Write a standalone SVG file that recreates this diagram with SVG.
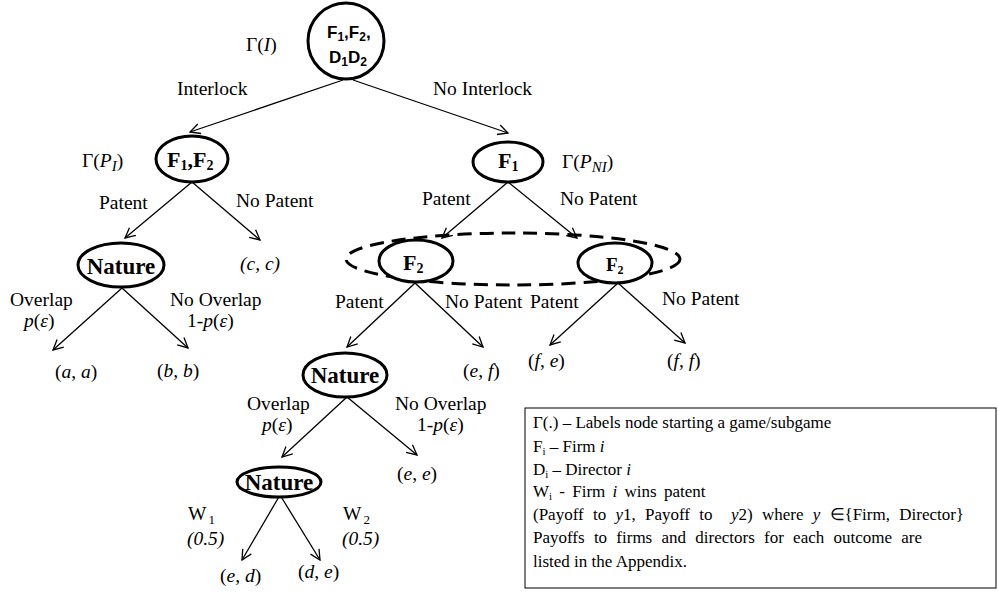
<svg xmlns="http://www.w3.org/2000/svg" width="998" height="597" viewBox="0 0 998 597">
<style>
.t{font-family:"Liberation Serif","Times New Roman",serif;font-size:19.5px;fill:#000}
.i{font-style:italic}
.nb{font-family:"Liberation Serif","Times New Roman",serif;font-weight:bold;fill:#000}
.sb{font-family:"Liberation Sans",Arial,sans-serif;font-weight:bold;font-size:17px;fill:#000}
.lg{font-family:"Liberation Serif","Times New Roman",serif;font-size:17px;fill:#000}
.node{fill:#fff;stroke:#000;stroke-width:3}
.edge{stroke:#000;stroke-width:1.3;fill:none;marker-end:url(#arr)}
</style>
<defs>
<marker id="arr" viewBox="0 0 12 12" refX="11" refY="6" markerWidth="12" markerHeight="12" markerUnits="userSpaceOnUse" orient="auto">
<path d="M1,1 L11,6 L1,11" fill="none" stroke="#000" stroke-width="1.3"/>
</marker>
</defs>
<rect width="998" height="597" fill="#fff"/>

<g id="connectors">
<line class="edge" x1="343" y1="80" x2="190" y2="132"/>
<line class="edge" x1="353" y1="80" x2="508" y2="133"/>
<line class="edge" x1="192" y1="182" x2="125" y2="238"/>
<line class="edge" x1="192" y1="182" x2="260" y2="240"/>
<line class="edge" x1="508" y1="182" x2="442" y2="238"/>
<line class="edge" x1="508" y1="182" x2="577" y2="238"/>
<line class="edge" x1="122" y1="288" x2="53" y2="350"/>
<line class="edge" x1="122" y1="288" x2="188" y2="348"/>
<line class="edge" x1="415" y1="283" x2="347" y2="347"/>
<line class="edge" x1="415" y1="283" x2="483" y2="347"/>
<line class="edge" x1="618" y1="283" x2="550" y2="345"/>
<line class="edge" x1="618" y1="283" x2="685" y2="343"/>
<line class="edge" x1="347" y1="397" x2="282" y2="457"/>
<line class="edge" x1="347" y1="397" x2="417" y2="455"/>
<line class="edge" x1="280" y1="495" x2="242" y2="560"/>
<line class="edge" x1="280" y1="495" x2="320" y2="560"/>
</g>

<g id="root">
<circle class="node" cx="346" cy="41" r="38"/>
<text class="sb" x="327" y="38">F<tspan font-size="12" dy="3">1</tspan><tspan dy="-3">,F</tspan><tspan font-size="12" dy="3">2</tspan><tspan dy="-3">,</tspan></text>
<text class="sb" x="329" y="63">D<tspan font-size="12" dy="3">1</tspan><tspan dy="-3">D</tspan><tspan font-size="12" dy="3">2</tspan></text>
<text class="t" x="246" y="51" font-size="25">Γ(<tspan class="i">I</tspan>)</text>
</g>

<g id="n_f1f2">
<ellipse class="node" cx="192" cy="159" rx="36" ry="23"/>
<text class="nb" x="167" y="167" font-size="22">F<tspan font-size="14" dy="3">1</tspan><tspan dy="-3">,F</tspan><tspan font-size="14" dy="3">2</tspan></text>
<text class="t" x="82" y="167" font-size="25">Γ(<tspan class="i">P</tspan><tspan class="i" font-size="15" dy="4">I</tspan><tspan dy="-4">)</tspan></text>
</g>

<g id="n_f1">
<ellipse class="node" cx="508" cy="162" rx="35" ry="20"/>
<text class="nb" x="498" y="168" font-size="22">F<tspan font-size="14" dy="3">1</tspan></text>
<text class="t" x="562" y="168" font-size="25">Γ(<tspan class="i">P</tspan><tspan class="i" font-size="15" dy="4">NI</tspan><tspan dy="-4">)</tspan></text>
</g>

<g id="n_nature1">
<ellipse class="node" cx="121" cy="265" rx="43" ry="22"/>
<text class="nb" x="121" y="274" font-size="23" text-anchor="middle">Nature</text>
</g>

<g id="infoset">
<ellipse cx="513" cy="259" rx="167" ry="26" fill="none" stroke="#000" stroke-width="3" stroke-dasharray="14,8"/>
</g>

<g id="n_f2a">
<ellipse class="node" cx="416" cy="261" rx="37" ry="21"/>
<text class="nb" x="403" y="270" font-size="22">F<tspan font-size="14" dy="3">2</tspan></text>
</g>

<g id="n_f2b">
<ellipse class="node" cx="615" cy="263" rx="37" ry="20"/>
<text class="nb" x="606" y="271" font-size="19">F<tspan font-size="12" dy="3">2</tspan></text>
</g>

<g id="n_nature2">
<ellipse class="node" cx="345" cy="375" rx="42" ry="22"/>
<text class="nb" x="345" y="383" font-size="23" text-anchor="middle">Nature</text>
</g>

<g id="n_nature3">
<ellipse class="node" cx="279" cy="482" rx="42" ry="15"/>
<text class="nb" x="279" y="490" font-size="23" text-anchor="middle">Nature</text>
</g>

<g id="labels">
<text class="t" x="177" y="95">Interlock</text>
<text class="t" x="433" y="95">No Interlock</text>
<text class="t" x="99" y="209">Patent</text>
<text class="t" x="236" y="207">No Patent</text>
<text class="t" x="422" y="205">Patent</text>
<text class="t" x="560" y="205">No Patent</text>
<text class="t i" x="240" y="270">(c, c)</text>
<text class="t" x="10" y="306">Overlap</text>
<text class="t" x="24" y="327"><tspan class="i">p</tspan>(<tspan class="i">ε</tspan>)</text>
<text class="t" x="170" y="306">No Overlap</text>
<text class="t" x="187" y="327">1-<tspan class="i">p</tspan>(<tspan class="i">ε</tspan>)</text>
<text class="t" x="55" y="378">(<tspan class="i">a</tspan>, <tspan class="i">a</tspan>)</text>
<text class="t" x="157" y="377">(<tspan class="i">b</tspan>, <tspan class="i">b</tspan>)</text>
<text class="t" x="335" y="308">Patent</text>
<text class="t" x="445" y="308">No Patent</text>
<text class="t" x="530" y="308">Patent</text>
<text class="t" x="662" y="305">No Patent</text>
<text class="t" x="463" y="377">(<tspan class="i">e</tspan>, <tspan class="i">f</tspan>)</text>
<text class="t" x="528" y="367">(<tspan class="i">f</tspan>, <tspan class="i">e</tspan>)</text>
<text class="t" x="667" y="367">(<tspan class="i">f</tspan>, <tspan class="i">f</tspan>)</text>
<text class="t" x="247" y="410">Overlap</text>
<text class="t" x="262" y="431"><tspan class="i">p</tspan>(<tspan class="i">ε</tspan>)</text>
<text class="t" x="395" y="410">No Overlap</text>
<text class="t" x="417" y="431">1-<tspan class="i">p</tspan>(<tspan class="i">ε</tspan>)</text>
<text class="t" x="397" y="480">(<tspan class="i">e</tspan>, <tspan class="i">e</tspan>)</text>
<text class="t" x="188" y="520">W<tspan font-size="13" dy="4" dx="2">1</tspan></text>
<text class="t i" x="187" y="545">(0.5)</text>
<text class="t" x="343" y="520">W<tspan font-size="13" dy="4" dx="2">2</tspan></text>
<text class="t i" x="342" y="545">(0.5)</text>
<text class="t" x="220" y="582">(<tspan class="i">e</tspan>, <tspan class="i">d</tspan>)</text>
<text class="t" x="298" y="578">(<tspan class="i">d</tspan>, <tspan class="i">e</tspan>)</text>
</g>

<g id="legend">
<rect x="525" y="408" width="471" height="180" fill="none" stroke="#000" stroke-width="1"/>
<text class="lg" x="533" y="428">Γ(.) – Labels node starting a game/subgame</text>
<text class="lg" x="533" y="452">F<tspan font-size="11" dy="3">i</tspan><tspan dy="-3"> – Firm </tspan><tspan class="i">i</tspan></text>
<text class="lg" x="533" y="475">D<tspan font-size="11" dy="3">i</tspan><tspan dy="-3"> – Director </tspan><tspan class="i">i</tspan></text>
<text class="lg" x="533" y="497" word-spacing="3">W<tspan font-size="11" dy="3">i</tspan><tspan dy="-3"> - Firm </tspan><tspan class="i">i</tspan> wins patent</text>
<text class="lg" x="533" y="520" xml:space="preserve" word-spacing="5">(Payoff to <tspan class="i">y</tspan>1, Payoff to  <tspan class="i">y</tspan>2) where <tspan class="i">y</tspan> ∈{Firm, Director}</text>
<text class="lg" x="533" y="543" word-spacing="5">Payoffs to firms and directors for each outcome are</text>
<text class="lg" x="533" y="567">listed in the Appendix.</text>
</g>
</svg>
